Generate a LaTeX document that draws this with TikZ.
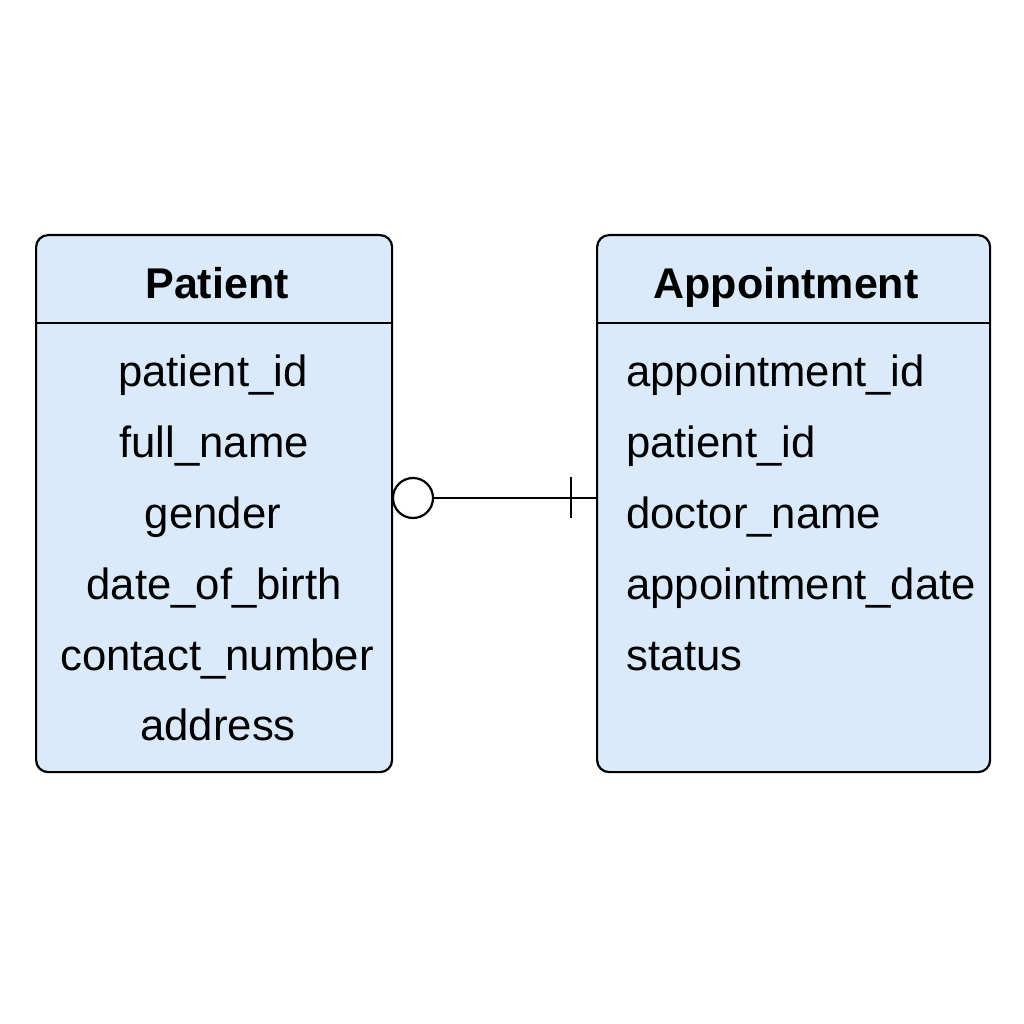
\documentclass[tikz,border=0pt]{standalone}
\usepackage{fontspec}
\setmainfont{Liberation Sans}
\definecolor{entfill}{RGB}{218,234,250}
\begin{document}
\begin{tikzpicture}[x=1pt,y=-1pt,
  entity/.style={draw=black, line width=2.2pt, fill=entfill, rounded corners=12pt, inner sep=0pt, anchor=north west},
  title/.style={anchor=base, font=\fontsize{43}{50}\selectfont\bfseries, inner sep=0pt},
  attrc/.style={anchor=base, font=\fontsize{43.7}{50}\selectfont, inner sep=0pt},
  attrl/.style={anchor=base west, font=\fontsize{43.7}{50}\selectfont, inner sep=0pt},
  rel/.style={line width=2.2pt, black}]
\useasboundingbox (0,0) rectangle (1024,1024);
% entity boxes
\node[entity, minimum width=356pt, minimum height=537pt] (patient) at (35,234) {};
\node[entity, minimum width=393pt, minimum height=537pt] (appt) at (596,234) {};
\draw[line width=2.2pt] (35,323) -- (391,323);
\draw[line width=2.2pt] (596,323) -- (989,323);
% titles
\node[title] (ptitle) at (217,298) {Patient};
\node[title] (atitle) at (786,298) {Appointment};
% patient attributes
\node[attrc] (p1) at (213,386) {patient\_id};
\node[attrc] (p2) at (214,457) {full\_name};
\node[attrc] (p3) at (213,528) {gender};
\node[attrc] (p4) at (214,599) {date\_of\_birth};
\node[attrc] (p5) at (217,670) {contact\_number};
\node[attrc] (p6) at (218,740) {address};
% appointment attributes
\node[attrl] (a1) at (626,386) {appointment\_id};
\node[attrl] (a2) at (626,457) {patient\_id};
\node[attrl] (a3) at (626,528) {doctor\_name};
\node[attrl] (a4) at (626,599) {appointment\_date};
\node[attrl] (a5) at (626,670) {status};
% relationship
\node[circle, draw=black, line width=2.2pt, fill=white, minimum size=40pt, inner sep=0pt] (circ) at (413,498) {};
\coordinate (aend) at (circ.east -| appt.west);
\draw[rel] (circ.east) -- (aend);
\coordinate (bar) at (571,498);
\draw[rel] ([yshift=-20pt]bar) -- ([yshift=21pt]bar);
\end{tikzpicture}
\end{document}
